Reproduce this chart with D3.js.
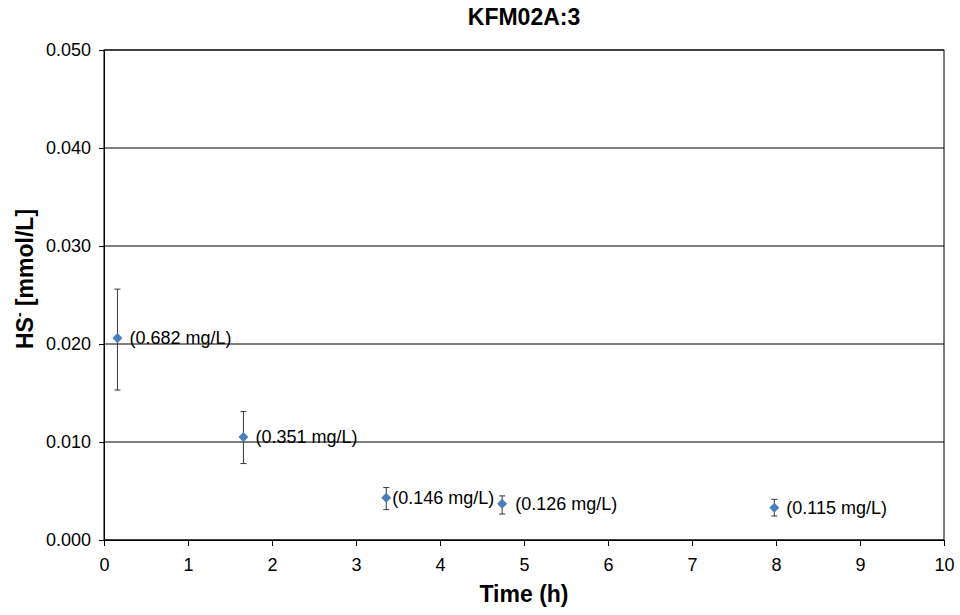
<!DOCTYPE html>
<html><head><meta charset="utf-8">
<script src="https://cdn.jsdelivr.net/npm/d3@7"></script>
<style>body{margin:0;background:#fff;}text{font-family:"Liberation Sans",Arial,sans-serif;}</style>
</head><body><svg id="c" width="960" height="615"></svg>
<script>
const times = [0.16, 1.66, 3.36, 4.74, 7.98];
const values = [0.0206, 0.0105, 0.0043, 0.0037, 0.0033];
const errLow = [0.0153, 0.0078, 0.0031, 0.00265, 0.00245];
const errHigh = [0.0256, 0.0131, 0.00535, 0.0045, 0.00415];
const labels = ["(0.682 mg/L)", "(0.351 mg/L)", "(0.146 mg/L)", "(0.126 mg/L)", "(0.115 mg/L)"];
const labelOffsets = [12, 12, 6, 13, 12];
const xTicks = [0,1,2,3,4,5,6,7,8,9,10];
const yTicks = [0,0.01,0.02,0.03,0.04,0.05];

const svg = d3.select("#c");
const L=104, R=944, T=50, B=540;
const x = d3.scaleLinear().domain([0,10]).range([L,R]);
const y = d3.scaleLinear().domain([0,0.05]).range([B,T]);

svg.append("g").selectAll("line").data(yTicks).join("line")
 .attr("x1",L).attr("x2",R).attr("y1",d=>y(d)).attr("y2",d=>y(d))
 .attr("stroke","#000").attr("stroke-width",1);
svg.append("rect").attr("x",L).attr("y",T).attr("width",R-L).attr("height",B-T)
 .attr("fill","none").attr("stroke","#000").attr("stroke-width",1);

const xa = svg.append("g").attr("transform",`translate(0,${B})`)
 .call(d3.axisBottom(x).tickValues(xTicks).tickFormat(d3.format("d")).tickSize(6).tickPadding(12));
const ya = svg.append("g").attr("transform",`translate(${L},0)`)
 .call(d3.axisLeft(y).tickValues(yTicks).tickFormat(d3.format(".3f")).tickSize(5).tickPadding(8));
[xa,ya].forEach(a=>{a.selectAll("text").attr("font-size",18).attr("fill","#000").style("font-family","Liberation Sans, Arial");
 a.selectAll("line").attr("stroke","#000"); a.select(".domain").attr("stroke","#000");});

const data = times.map((t,i)=>({t,v:values[i],lo:errLow[i],hi:errHigh[i],lab:labels[i],off:labelOffsets[i]}));
const g = svg.append("g");
g.selectAll(".eb").data(data).join("line").attr("class","eb").attr("x1",d=>x(d.t)).attr("x2",d=>x(d.t))
 .attr("y1",d=>y(d.lo)).attr("y2",d=>y(d.hi)).attr("stroke","#222").attr("stroke-width",0.9);
g.selectAll(".ct").data(data).join("line").attr("class","ct").attr("x1",d=>x(d.t)-3).attr("x2",d=>x(d.t)+3)
 .attr("y1",d=>y(d.hi)).attr("y2",d=>y(d.hi)).attr("stroke","#222").attr("stroke-width",0.9);
g.selectAll(".cb").data(data).join("line").attr("class","cb").attr("x1",d=>x(d.t)-3).attr("x2",d=>x(d.t)+3)
 .attr("y1",d=>y(d.lo)).attr("y2",d=>y(d.lo)).attr("stroke","#222").attr("stroke-width",0.9);
g.selectAll("path").data(data).join("path")
 .attr("d",d3.symbol(d3.symbolDiamond2 ? d3.symbolDiamond2 : d3.symbolDiamond,64))
 .attr("transform",d=>`translate(${x(d.t)},${y(d.v)})`).attr("fill","#4a7ebb");
g.selectAll("text").data(data).join("text").attr("x",d=>x(d.t)+d.off).attr("y",d=>y(d.v))
 .attr("dy","0.35em").attr("font-size",18).attr("fill","#000").text(d=>d.lab);

svg.append("text").attr("x",(L+R)/2).attr("y",25).attr("text-anchor","middle")
 .attr("font-size",23).attr("font-weight","bold").text("KFM02A:3");
svg.append("text").attr("x",(L+R)/2).attr("y",602).attr("text-anchor","middle")
 .attr("font-size",23).attr("font-weight","bold").text("Time (h)");
const yl = svg.append("text").attr("transform",`translate(33,279) rotate(-90)`)
 .attr("text-anchor","middle").attr("font-size",23).attr("font-weight","bold");
yl.append("tspan").text("HS");
yl.append("tspan").attr("dy",-9).attr("font-size",14).text("-");
yl.append("tspan").attr("dy",9).text(" [mmol/L]");
</script></body></html>
